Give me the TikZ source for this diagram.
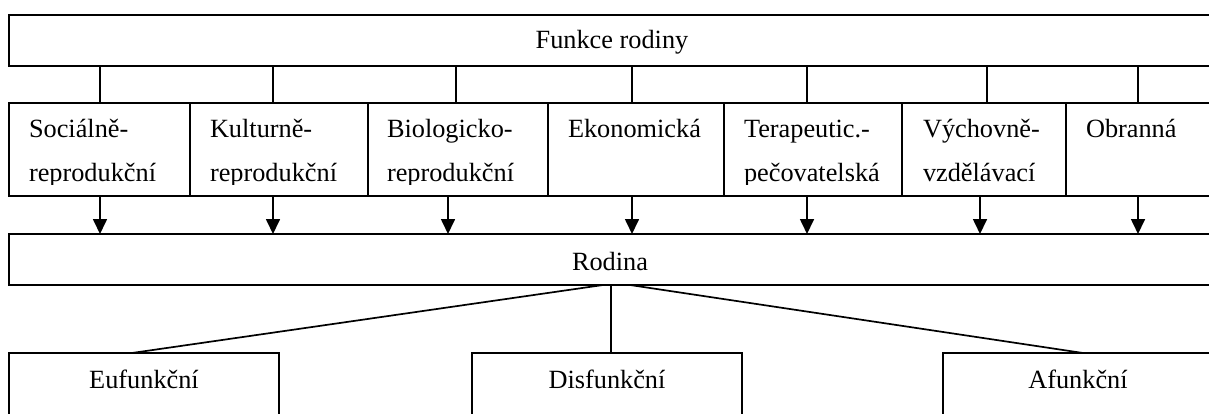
\documentclass[tikz,border=0pt]{standalone}
\usepackage{fontspec}
\setmainfont{Liberation Serif}
\usetikzlibrary{arrows.meta}
\begin{document}
\begin{tikzpicture}[x=1pt,y=-1pt,line width=1.7pt,
  box/.style={draw,rectangle,inner sep=0pt,outer sep=0pt,line width=1.7pt},
  lbl/.style={inner sep=0pt,outer sep=0pt,font=\fontsize{26.3}{30}\selectfont},
  arr/.style={-{Triangle[length=15pt,width=14pt]}}]
\clip (0,0) rectangle (1209,414);
% boxes
\node[box,minimum width=1204pt,minimum height=51pt] (top) at (611,40.5) {};
\node[box,minimum width=181pt,minimum height=93pt] (c1) at (99.5,149.5) {};
\node[box,minimum width=178pt,minimum height=93pt] (c2) at (279,149.5) {};
\node[box,minimum width=180pt,minimum height=93pt] (c3) at (458,149.5) {};
\node[box,minimum width=176pt,minimum height=93pt] (c4) at (636,149.5) {};
\node[box,minimum width=178pt,minimum height=93pt] (c5) at (813,149.5) {};
\node[box,minimum width=164pt,minimum height=93pt] (c6) at (984,149.5) {};
\node[box,minimum width=147pt,minimum height=93pt] (c7) at (1139.5,149.5) {};
\node[box,minimum width=1204pt,minimum height=51pt] (rod) at (611,259.5) {};
\node[box,minimum width=270pt,minimum height=107pt] (eu) at (144,406.5) {};
\node[box,minimum width=270pt,minimum height=107pt] (dis) at (607,406.5) {};
\node[box,minimum width=270pt,minimum height=107pt] (af) at (1078,406.5) {};
% labels
\node[lbl,anchor=base] (tTop) at (612,49) {Funkce rodiny};
\node[lbl,anchor=base] (tRod) at (610,270) {Rodina};
\node[lbl,anchor=base] (tEu) at (144,388) {Eufunkční};
\node[lbl,anchor=base] (tDis) at (607,388) {Disfunkční};
\node[lbl,anchor=base] (tAf) at (1078,388) {Afunkční};
\begin{scope}
\clip (9,103) rectangle (1213,185);
\node[lbl,anchor=base west] (t1a) at (29,138) {Sociálně-};
\node[lbl,anchor=base west] (t1b) at (29,182) {reprodukční};
\node[lbl,anchor=base west] (t2a) at (210,138) {Kulturně-};
\node[lbl,anchor=base west] (t2b) at (210,182) {reprodukční};
\node[lbl,anchor=base west] (t3a) at (387,138) {Biologicko-};
\node[lbl,anchor=base west] (t3b) at (387,182) {reprodukční};
\node[lbl,anchor=base west] (t4a) at (568,138) {Ekonomická};
\node[lbl,anchor=base west] (t5a) at (744,138) {Terapeutic.-};
\node[lbl,anchor=base west] (t5b) at (744,182) {pečovatelská};
\node[lbl,anchor=base west] (t6a) at (923,138) {Výchovně-};
\node[lbl,anchor=base west] (t6b) at (923,182) {vzdělávací};
\node[lbl,anchor=base west] (t7a) at (1086,138) {Obranná};
\end{scope}
% top connectors
\draw (top.south -| 100,0) -- (c1.north -| 100,0);
\draw (top.south -| 273,0) -- (c2.north -| 273,0);
\draw (top.south -| 456,0) -- (c3.north -| 456,0);
\draw (top.south -| 632,0) -- (c4.north -| 632,0);
\draw (top.south -| 807,0) -- (c5.north -| 807,0);
\draw (top.south -| 987,0) -- (c6.north -| 987,0);
\draw (top.south -| 1138,0) -- (c7.north -| 1138,0);
% arrows
\draw[arr] (c1.south -| 100,0) -- (rod.north -| 100,0);
\draw[arr] (c2.south -| 273,0) -- (rod.north -| 273,0);
\draw[arr] (c3.south -| 448,0) -- (rod.north -| 448,0);
\draw[arr] (c4.south -| 632,0) -- (rod.north -| 632,0);
\draw[arr] (c5.south -| 807,0) -- (rod.north -| 807,0);
\draw[arr] (c6.south -| 980,0) -- (rod.north -| 980,0);
\draw[arr] (c7.south -| 1138,0) -- (rod.north -| 1138,0);
% bottom connectors
\draw (rod.south -| 603,0) -- (eu.north -| 132,0);
\draw (rod.south -| 611,0) -- (dis.north -| 611,0);
\draw (rod.south -| 630,0) -- (af.north -| 1083,0);
\end{tikzpicture}
\end{document}
